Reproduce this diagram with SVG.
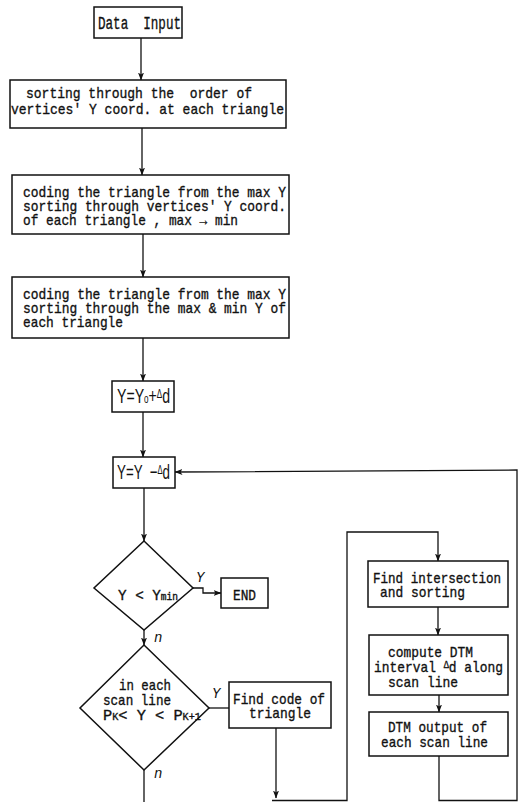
<svg xmlns="http://www.w3.org/2000/svg" width="524" height="802" viewBox="0 0 524 802">
<style>
.b{fill:#fff;stroke:#111;stroke-width:1.5}
.c{fill:none;stroke:#111;stroke-width:1.3}
.t{font-family:"Liberation Mono",monospace;font-size:15px;fill:#111;stroke:#111;stroke-width:0.35}
.s{font-family:"Liberation Sans",sans-serif;font-size:21px;fill:#111}
.l{font-family:"Liberation Mono",monospace;font-size:14px;fill:#111;font-style:italic}
</style>
<defs>
<marker id="a" markerWidth="8" markerHeight="6" refX="7.5" refY="3" orient="auto" markerUnits="userSpaceOnUse">
<path d="M0,0 L8,3 L0,6 L2,3 z" fill="#111"/>
</marker>
</defs>
<rect width="524" height="802" fill="#fff"/>
<g id="connectors">
<path class="c" d="M141,38 V80" marker-end="url(#a)"/>
<path class="c" d="M142,128 V175" marker-end="url(#a)"/>
<path class="c" d="M143,234 V277" marker-end="url(#a)"/>
<path class="c" d="M143,338 V381" marker-end="url(#a)"/>
<path class="c" d="M143,412 V457" marker-end="url(#a)"/>
<path class="c" d="M144,488 V541" marker-end="url(#a)"/>
<path class="c" d="M193,588 H203 V593 H221" marker-end="url(#a)"/>
<path class="c" d="M144,630 V645" marker-end="url(#a)"/>
<path class="c" d="M209,708 H229"/>
<path class="c" d="M144,770 V802"/>
<path class="c" d="M276,728 V798" marker-end="url(#a)"/>
<path class="c" d="M272,800.5 H347 V532 H438 V561" marker-end="url(#a)"/>
<path class="c" d="M438,607 V635" marker-end="url(#a)"/>
<path class="c" d="M439,695 V712" marker-end="url(#a)"/>
<path class="c" d="M439,756 V800.5 H517 V470 L175,472" marker-end="url(#a)"/>
</g>
<g id="n1"><rect class="b" x="94" y="7" width="88" height="31"/>
<text class="t" x="98" y="29" xml:space="preserve" textLength="83" lengthAdjust="spacingAndGlyphs" style="font-size:19px">Data  Input</text></g>
<g id="n2"><rect class="b" x="10" y="80" width="276" height="48"/>
<text class="t" x="26" y="98" xml:space="preserve" textLength="226" lengthAdjust="spacingAndGlyphs">sorting through the  order of</text>
<text class="t" x="11" y="114" textLength="273" lengthAdjust="spacingAndGlyphs">vertices' Y coord. at each triangle</text></g>
<g id="n3"><rect class="b" x="12" y="175" width="277" height="59"/>
<text class="t" x="23" y="197" textLength="263" lengthAdjust="spacingAndGlyphs">coding the triangle from the max Y</text>
<text class="t" x="23" y="211" textLength="263" lengthAdjust="spacingAndGlyphs">sorting through vertices' Y coord.</text>
<text class="t" x="23" y="225" textLength="215" lengthAdjust="spacingAndGlyphs">of each triangle , max → min</text></g>
<g id="n4"><rect class="b" x="12" y="277" width="277" height="61"/>
<text class="t" x="23" y="299" textLength="263" lengthAdjust="spacingAndGlyphs">coding the triangle from the max Y</text>
<text class="t" x="23" y="313" textLength="263" lengthAdjust="spacingAndGlyphs">sorting through the max &amp; min Y of</text>
<text class="t" x="23" y="327" textLength="100" lengthAdjust="spacingAndGlyphs">each triangle</text></g>
<g id="n5"><rect class="b" x="112" y="381" width="62" height="31"/>
<text class="s" x="117" y="403" textLength="53" lengthAdjust="spacingAndGlyphs">Y=Y<tspan font-size="12">o</tspan>+<tspan font-size="12" dy="-5">Δ</tspan><tspan dy="5">d</tspan></text></g>
<g id="n6"><rect class="b" x="113" y="457" width="62" height="31"/>
<text class="s" x="117" y="479" xml:space="preserve" textLength="53" lengthAdjust="spacingAndGlyphs">Y=Y  −<tspan font-size="12" dy="-5">Δ</tspan><tspan dy="5">d</tspan></text></g>
<g id="n7"><path class="b" d="M144,541 L193,588 L144,630 L94,588 Z"/>
<text class="t" x="118" y="600" textLength="60" lengthAdjust="spacingAndGlyphs">Y &lt; Y<tspan font-size="10">min</tspan></text></g>
<g id="n8"><rect class="b" x="221" y="578" width="47" height="30"/>
<text class="t" x="233" y="600" textLength="23" lengthAdjust="spacingAndGlyphs">END</text></g>
<g id="n9"><path class="b" d="M144,645 L209,708 L144,770 L80,708 Z"/>
<text class="t" x="119" y="690" textLength="52" lengthAdjust="spacingAndGlyphs">in each</text>
<text class="t" x="103" y="705" textLength="68" lengthAdjust="spacingAndGlyphs">scan line</text>
<text class="t" x="103" y="720" textLength="98" lengthAdjust="spacingAndGlyphs">P<tspan font-size="10">K</tspan>&lt; Y &lt; P<tspan font-size="10">K+1</tspan></text></g>
<g id="n10"><rect class="b" x="229" y="682" width="102" height="46"/>
<text class="t" x="233" y="704" textLength="92" lengthAdjust="spacingAndGlyphs">Find code of</text>
<text class="t" x="249" y="718" textLength="62" lengthAdjust="spacingAndGlyphs">triangle</text></g>
<g id="n11"><rect class="b" x="368" y="561" width="140" height="46"/>
<text class="t" x="373" y="583" textLength="128" lengthAdjust="spacingAndGlyphs">Find intersection</text>
<text class="t" x="380" y="597" textLength="85" lengthAdjust="spacingAndGlyphs">and sorting</text></g>
<g id="n12"><rect class="b" x="369" y="635" width="139" height="60"/>
<text class="t" x="388" y="657" textLength="85" lengthAdjust="spacingAndGlyphs">compute DTM</text>
<text class="t" x="374" y="672" textLength="129" lengthAdjust="spacingAndGlyphs">interval <tspan font-size="10" dy="-4">Δ</tspan><tspan dy="4">d along</tspan></text>
<text class="t" x="388" y="687" textLength="70" lengthAdjust="spacingAndGlyphs">scan line</text></g>
<g id="n13"><rect class="b" x="369" y="712" width="139" height="44"/>
<text class="t" x="388" y="732" textLength="99" lengthAdjust="spacingAndGlyphs">DTM output of</text>
<text class="t" x="381" y="747" textLength="107" lengthAdjust="spacingAndGlyphs">each scan line</text></g>
<g id="labels">
<text class="l" x="196" y="582">Y</text>
<text class="l" x="154" y="642">n</text>
<text class="l" x="212" y="698">Y</text>
<text class="l" x="154" y="778">n</text>
</g>
</svg>
